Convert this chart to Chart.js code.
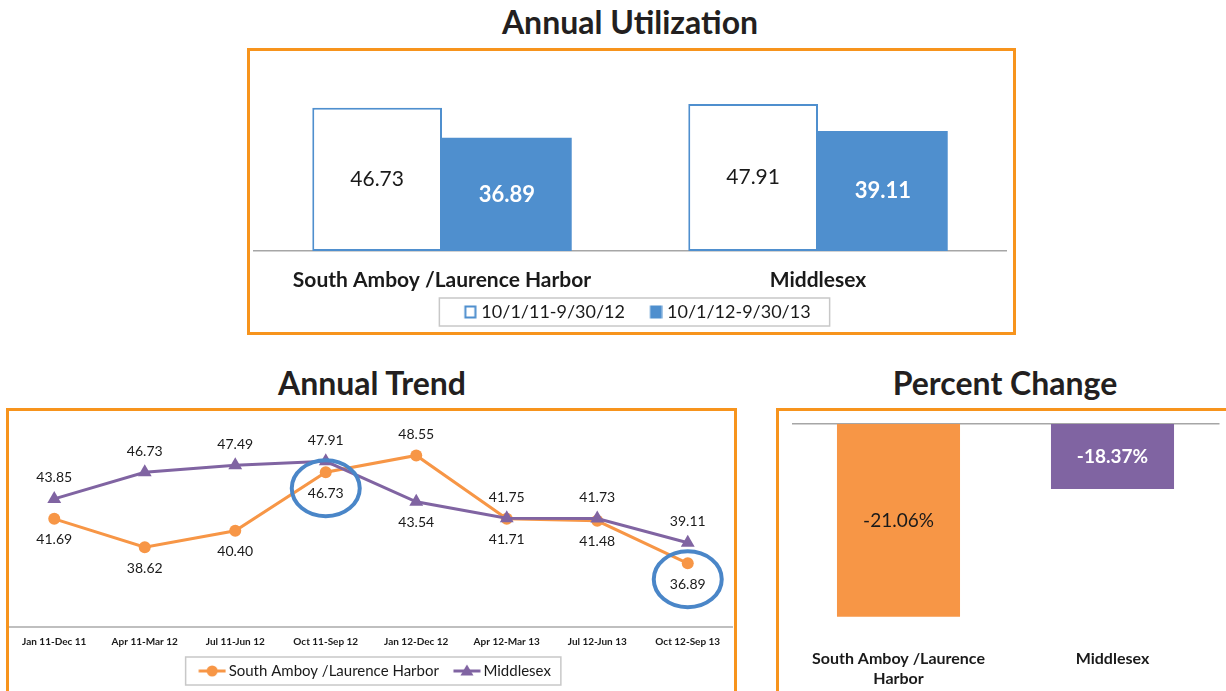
<!DOCTYPE html>
<html>
<head>
<meta charset="utf-8">
<title>Annual Utilization</title>
<script src="https://cdn.jsdelivr.net/npm/chart.js@4.4.1/dist/chart.umd.min.js"></script>
<style>
    body { margin: 0; background: #fff; font-family: Lato, sans-serif; }
    #pagina { position: relative; width: 1226px; height: 691px; overflow: hidden; }
    .titulo { position: absolute; font: bold 32px Lato, sans-serif; color: #231f20; text-align: center; line-height: 36px; }
    .caixa { position: absolute; border: 3px solid #f7941d; box-sizing: border-box; }
    canvas { position: absolute; }
</style>
</head>
<body>
<div id="pagina">
    <div class="titulo" style="left:380px; top:4px; width:500px;">Annual Utilization</div>
    <div class="caixa" style="left:247px; top:48px; width:769px; height:287px;"></div>
    <canvas id="graficoUtilizacao" width="762" height="280" style="left:250px; top:51px;"></canvas>

    <div class="titulo" style="left:172px; top:365px; width:400px;">Annual Trend</div>
    <div class="caixa" style="left:6px; top:408px; width:731px; height:300px;"></div>
    <canvas id="graficoTendencia" width="724" height="280" style="left:9px; top:411px;"></canvas>

    <div class="titulo" style="left:805px; top:365px; width:400px;">Percent Change</div>
    <div class="caixa" style="left:776px; top:408px; width:470px; height:300px;"></div>
    <canvas id="graficoVariacao" width="447" height="280" style="left:779px; top:411px;"></canvas>
</div>

<script>
// Dados de utilização anual
const categorias = ['South Amboy /Laurence Harbor', 'Middlesex'];
const periodos = ['10/1/11-9/30/12', '10/1/12-9/30/13'];
const utilizacao2012 = [46.73, 47.91];
const utilizacao2013 = [36.89, 39.11];

// Dados da tendência anual (janelas móveis de 12 meses)
const trimestres = ['Jan 11-Dec 11', 'Apr 11-Mar 12', 'Jul 11-Jun 12', 'Oct 11-Sep 12',
                    'Jan 12-Dec 12', 'Apr 12-Mar 13', 'Jul 12-Jun 13', 'Oct 12-Sep 13'];
const tendenciaSouthAmboy = [41.69, 38.62, 40.40, 46.73, 48.55, 41.71, 41.48, 36.89];
const tendenciaMiddlesex = [43.85, 46.73, 47.49, 47.91, 43.54, 41.75, 41.73, 39.11];
const destaquesSouthAmboy = [3, 7]; // pontos circulados em azul

// Dados da variação percentual
const categoriasVariacao = [['South Amboy /Laurence', 'Harbor'], ['Middlesex']];
const variacaoPercentual = [-21.06, -18.37];

const LARANJA = '#f79646';
const ROXO = '#8064a2';
const AZUL = '#4f8fce';
const TEXTO = '#1a1a1a';
const FONTE = 'Lato, sans-serif';

// Escreve o valor no meio de cada barra (só a parte visível)
const rotulosBarras = {
    id: 'rotulosBarras',
    afterDatasetsDraw(chart) {
        const { ctx, chartArea } = chart;
        chart.data.datasets.forEach((ds, i) => {
            chart.getDatasetMeta(i).data.forEach((barra, j) => {
                const topo = Math.max(Math.min(barra.y, barra.base), chartArea.top);
                const fundo = Math.min(Math.max(barra.y, barra.base), chartArea.bottom);
                ctx.save();
                ctx.font = Array.isArray(ds.rotuloFonte) ? ds.rotuloFonte[j] : ds.rotuloFonte;
                ctx.fillStyle = Array.isArray(ds.rotuloCor) ? ds.rotuloCor[j] : ds.rotuloCor;
                ctx.textAlign = 'center';
                ctx.textBaseline = 'middle';
                ctx.fillText(ds.formato(ds.data[j]), barra.x, (topo + fundo) / 2);
                ctx.restore();
            });
        });
    }
};

// Rótulos dos pontos: a série mais alta fica com o rótulo acima, a outra abaixo
const rotulosLinhas = {
    id: 'rotulosLinhas',
    afterDatasetsDraw(chart) {
        const { ctx } = chart;
        const series = chart.data.datasets;
        ctx.save();
        ctx.font = '14px ' + FONTE;
        ctx.fillStyle = TEXTO;
        ctx.textAlign = 'center';
        ctx.textBaseline = 'middle';
        series.forEach((ds, i) => {
            const outra = series[1 - i];
            chart.getDatasetMeta(i).data.forEach((ponto, j) => {
                const acima = ds.data[j] >= outra.data[j];
                ctx.fillText(ds.data[j].toFixed(2), ponto.x, ponto.y + (acima ? -21 : 21));
            });
        });

        // círculos de destaque em volta dos valores usados no gráfico de barras
        const meta = chart.getDatasetMeta(0);
        ctx.strokeStyle = '#4a86c8';
        ctx.lineWidth = 4;
        destaquesSouthAmboy.forEach(j => {
            const p = meta.data[j];
            ctx.beginPath();
            ctx.ellipse(p.x, p.y + 16, 34, 28, 0, 0, Math.PI * 2);
            ctx.stroke();
        });
        ctx.restore();
    }
};

// Moldura cinza em volta dos itens da legenda
const molduraLegenda = {
    id: 'molduraLegenda',
    afterDraw(chart, args, op) {
        const legenda = chart.legend;
        if (!legenda || !legenda.options.display || !legenda.legendHitBoxes.length) return;
        const caixas = legenda.legendHitBoxes;
        const esq = Math.min(...caixas.map(c => c.left)) - op.esquerda;
        const dir = Math.max(...caixas.map(c => c.left + c.width)) + op.direita;
        const topo = caixas[0].top - op.vertical;
        const alt = caixas[0].height + op.vertical * 2;
        const { ctx } = chart;
        ctx.save();
        ctx.strokeStyle = '#c8c8c8';
        ctx.lineWidth = 1.5;
        ctx.strokeRect(esq, topo, dir - esq, alt);
        ctx.restore();
    }
};

// Ícone da legenda de linhas: traço com o marcador no meio (encostado à direita)
function iconeLinha(cor, estilo) {
    const c = document.createElement('canvas');
    c.width = 40;
    c.height = 14;
    const g = c.getContext('2d');
    g.strokeStyle = cor;
    g.fillStyle = cor;
    g.lineWidth = 3;
    g.beginPath();
    g.moveTo(12.5, 7);
    g.lineTo(39.5, 7);
    g.stroke();
    g.beginPath();
    if (estilo === 'triangle') {
        g.moveTo(26, 0.5);
        g.lineTo(32.5, 11.5);
        g.lineTo(19.5, 11.5);
        g.closePath();
    } else {
        g.arc(26, 7, 5.5, 0, Math.PI * 2);
    }
    g.fill();
    return c;
}

// Ícone da legenda de barras: quadrado encostado à direita
function iconeQuadrado(preenchimento, borda) {
    const c = document.createElement('canvas');
    c.width = 32;
    c.height = 14;
    const g = c.getContext('2d');
    g.fillStyle = borda;
    g.fillRect(19.5, 0.5, 12, 13);
    g.fillStyle = preenchimento;
    g.fillRect(21.5, 2.5, 8, 9);
    return c;
}

// Gráfico de barras: utilização anual
function criarGraficoUtilizacao() {
    const ctx = document.getElementById('graficoUtilizacao').getContext('2d');
    new Chart(ctx, {
        type: 'bar',
        data: {
            labels: categorias,
            datasets: [{
                label: periodos[0],
                data: utilizacao2012,
                backgroundColor: '#ffffff',
                borderColor: AZUL,
                borderWidth: 2,
                borderSkipped: false,
                rotuloFonte: '21px ' + FONTE,
                rotuloCor: TEXTO,
                formato: v => v.toFixed(2)
            }, {
                label: periodos[1],
                data: utilizacao2013,
                backgroundColor: AZUL,
                borderColor: AZUL,
                borderWidth: 0,
                rotuloFonte: 'bold 22px ' + FONTE,
                rotuloCor: '#ffffff',
                formato: v => v.toFixed(2)
            }]
        },
        options: {
            responsive: false,
            animation: false,
            categoryPercentage: 0.69,
            barPercentage: 1,
            layout: { autoPadding: false, padding: { top: 16, left: 4, right: 6, bottom: 0 } },
            scales: {
                x: {
                    grid: { display: false, drawTicks: false },
                    border: { display: true, color: '#a6a6a6', width: 1.5 },
                    ticks: { color: TEXTO, padding: 16.5, font: { family: FONTE, size: 21, weight: 'bold' } },
                    afterFit: escala => { escala.height = 42; }
                },
                y: { display: false, min: 0, max: 60 }
            },
            plugins: {
                legend: {
                    position: 'bottom',
                    labels: {
                        color: TEXTO,
                        usePointStyle: true,
                        pointStyleWidth: 23,
                        padding: 10,
                        font: { family: FONTE, size: 18 },
                        generateLabels: chart => chart.data.datasets.map((ds, i) => ({
                            text: ds.label,
                            pointStyle: iconeQuadrado(ds.backgroundColor, ds.borderColor),
                            fillStyle: ds.backgroundColor,
                            strokeStyle: ds.borderColor,
                            lineWidth: 0,
                            fontColor: TEXTO,
                            hidden: false,
                            datasetIndex: i
                        }))
                    }
                },
                tooltip: { enabled: false },
                molduraLegenda: { esquerda: 10, direita: 19, vertical: 5 }
            }
        },
        plugins: [rotulosBarras, molduraLegenda]
    });
}

// Gráfico de linhas: tendência anual
function criarGraficoTendencia() {
    const ctx = document.getElementById('graficoTendencia').getContext('2d');
    new Chart(ctx, {
        type: 'line',
        data: {
            labels: trimestres,
            datasets: [{
                label: 'South Amboy /Laurence Harbor',
                data: tendenciaSouthAmboy,
                borderColor: LARANJA,
                backgroundColor: LARANJA,
                borderWidth: 3,
                pointStyle: 'circle',
                pointRadius: 6,
                pointBorderWidth: 0,
                order: 1
            }, {
                label: 'Middlesex',
                data: tendenciaMiddlesex,
                borderColor: ROXO,
                backgroundColor: ROXO,
                borderWidth: 3,
                pointStyle: 'triangle',
                pointRadius: 8,
                pointBorderWidth: 0,
                order: 0
            }]
        },
        options: {
            responsive: false,
            animation: false,
            layout: { autoPadding: false, padding: { top: 31, left: 0, right: 0, bottom: 2.5 } },
            scales: {
                x: {
                    offset: true,
                    grid: { display: false, drawTicks: false },
                    border: { display: true, color: '#bfbfbf', width: 2 },
                    ticks: { color: TEXTO, padding: 9, maxRotation: 0, autoSkip: false, font: { family: FONTE, size: 10, weight: 'bold' } },
                    afterFit: escala => { escala.height = 29.5; }
                },
                y: { display: false, min: 30, max: 50 }
            },
            plugins: {
                legend: {
                    position: 'bottom',
                    labels: {
                        color: TEXTO,
                        usePointStyle: true,
                        pointStyleWidth: 30,
                        padding: 7,
                        font: { family: FONTE, size: 15 },
                        generateLabels: chart => chart.data.datasets.map((ds, i) => ({
                            text: ds.label,
                            pointStyle: iconeLinha(ds.borderColor, ds.pointStyle),
                            fillStyle: ds.borderColor,
                            strokeStyle: ds.borderColor,
                            lineWidth: 0,
                            fontColor: TEXTO,
                            hidden: false,
                            datasetIndex: i
                        }))
                    }
                },
                tooltip: { enabled: false },
                molduraLegenda: { esquerda: 5.5, direita: 10, vertical: 6.5 }
            }
        },
        plugins: [rotulosLinhas, molduraLegenda]
    });
}

// Gráfico de barras: variação percentual (barras pendem do eixo no topo)
function criarGraficoVariacao() {
    const ctx = document.getElementById('graficoVariacao').getContext('2d');
    new Chart(ctx, {
        type: 'bar',
        data: {
            labels: categoriasVariacao,
            datasets: [{
                label: 'Percent Change',
                data: variacaoPercentual,
                backgroundColor: [LARANJA, ROXO],
                borderWidth: 0,
                clip: 0,
                rotuloFonte: ['19px ' + FONTE, 'bold 19px ' + FONTE],
                rotuloCor: [TEXTO, '#ffffff'],
                formato: v => v.toFixed(2) + '%'
            }]
        },
        options: {
            responsive: false,
            animation: false,
            categoryPercentage: 0.575,
            barPercentage: 1,
            layout: { autoPadding: false, padding: { top: 13, left: 12.5, right: 6.5, bottom: 0 } },
            scales: {
                x: {
                    grid: { display: false, drawTicks: false },
                    border: { display: false },
                    ticks: { color: TEXTO, padding: 11, maxRotation: 0, font: { family: FONTE, size: 16, weight: 'bold', lineHeight: 1.25 } },
                    afterFit: escala => { escala.height = 53.25; }
                },
                y: {
                    min: -21.5,
                    max: -17,
                    ticks: { display: false, stepSize: 0.5 },
                    border: { display: false },
                    grid: {
                        drawTicks: false,
                        lineWidth: 1.5,
                        color: c => (c.tick && c.tick.value === c.scale.max) ? '#a6a6a6' : 'rgba(0,0,0,0)'
                    }
                }
            },
            plugins: {
                legend: { display: false },
                tooltip: { enabled: false }
            }
        },
        plugins: [rotulosBarras]
    });
}

criarGraficoUtilizacao();
criarGraficoTendencia();
criarGraficoVariacao();
</script>
</body>
</html>
